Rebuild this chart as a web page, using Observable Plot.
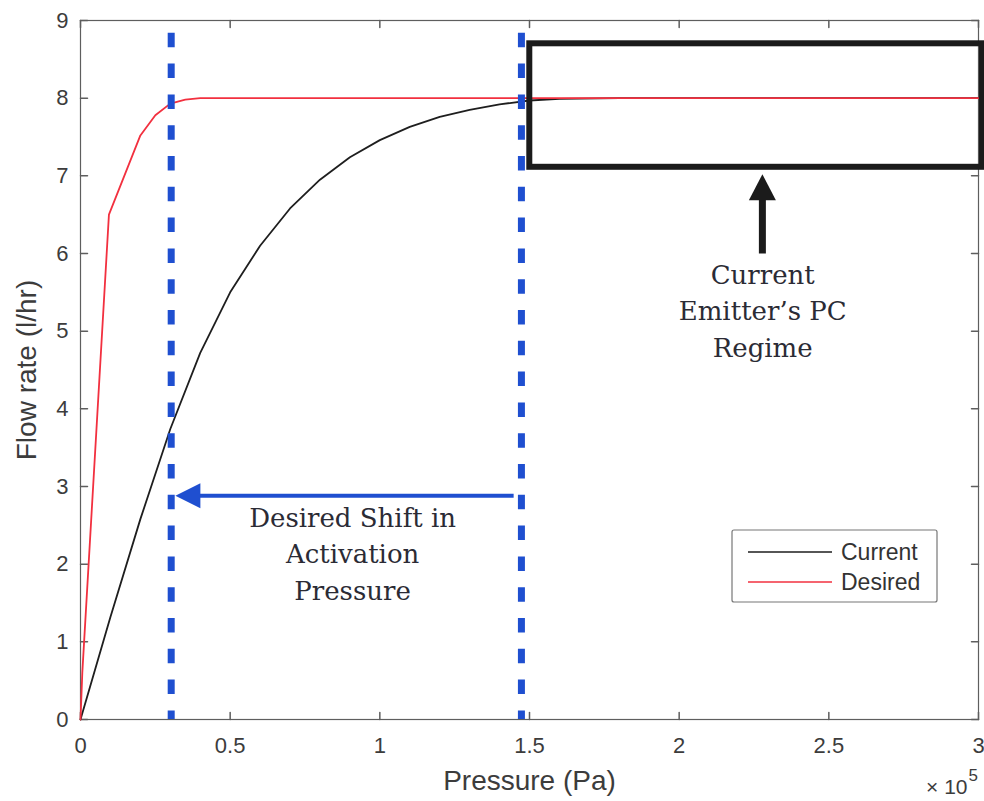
<!DOCTYPE html>
<html><head><meta charset="utf-8">
<script src="https://cdn.jsdelivr.net/npm/d3@7"></script>
<script src="https://cdn.jsdelivr.net/npm/@observablehq/plot@0.6"></script>
<style>
body{margin:0;background:#fff}
#chart{position:relative;width:984px;height:801px}
</style>
</head><body><div id="chart"></div>
<script>
// ---- data (pressure in Pa, flow rate in l/hr) ----
const seriesNames = ["Current", "Desired"];
const currentP = [0, 10000, 20000, 30000, 40000, 50000, 60000, 70000, 80000, 90000, 100000, 110000, 120000, 130000, 140000, 150000, 160000, 180000, 200000, 250000, 300000];
const currentQ = [0, 1.32, 2.58, 3.74, 4.72, 5.50, 6.10, 6.58, 6.95, 7.24, 7.46, 7.63, 7.76, 7.85, 7.92, 7.97, 7.99, 8.0, 8.0, 8.0, 8.0];
const desiredP = [0, 600, 9500, 20000, 25000, 30000, 35000, 40000, 100000, 200000, 300000];
const desiredQ = [0, 0.6, 6.5, 7.52, 7.78, 7.93, 7.98, 8.0, 8.0, 8.0, 8.0];
const xTicks = [0, 50000, 100000, 150000, 200000, 250000, 300000];
const xTickLabels = ["0", "0.5", "1", "1.5", "2", "2.5", "3"];
const yTicks = [0, 1, 2, 3, 4, 5, 6, 7, 8, 9];
const activationP = [30300, 147300];
const xLabel = "Pressure (Pa)";
const yLabel = "Flow rate (l/hr)";
const regimeBox = [{x1: 150100, x2: 301300, y1: 7.11, y2: 8.70}];
const regimeText = "Current\nEmitter\u2019s PC\nRegime";
const shiftText = "Desired Shift in\nActivation\nPressure";

const rows = [
  ...currentP.map((p, i) => ({series: seriesNames[0], p, q: currentQ[i]})),
  ...desiredP.map((p, i) => ({series: seriesNames[1], p, q: desiredQ[i]}))
];

const lineColors = ["#1e1e1e", "#f2303f"];
const blue = "#1f4fd0";
const tickShape = {draw(ctx, l) { ctx.moveTo(0, 0); ctx.lineTo(0, -l); }};
const headShape = {draw(ctx, l, r) { ctx.moveTo(0, -l); ctx.lineTo(-r, 0); ctx.lineTo(r, 0); ctx.closePath(); }};
const frameColor = "#5e5e5e";
const textColor = "#3c3c3c";

const svg = Plot.plot({
  width: 984, height: 801,
  marginLeft: 80, marginRight: 6, marginTop: 20, marginBottom: 82,
  style: {fontFamily: "'Liberation Sans', Arial, sans-serif", fontSize: "22px", color: textColor, background: "#fff", overflow: "visible"},
  x: {domain: [0, 300000], label: null},
  y: {domain: [0, 9], label: null},
  color: {domain: seriesNames, range: lineColors},
  marks: [
    Plot.frame({stroke: frameColor, strokeWidth: 1.2}),
    Plot.axisX(xTicks, {tickSize: 0, tickPadding: 18, tickFormat: d => xTickLabels[xTicks.indexOf(d)], fontSize: 22, fill: textColor}),
    Plot.axisY(yTicks, {tickSize: 0, tickPadding: 12, tickFormat: d => String(d), fontSize: 22, fill: textColor}),
    Plot.vector(xTicks, {x: d => d, frameAnchor: "bottom", length: 7, rotate: 0, anchor: "start", shape: tickShape, stroke: frameColor}),
    Plot.vector(xTicks, {x: d => d, frameAnchor: "top", length: 7, rotate: 180, anchor: "start", shape: tickShape, stroke: frameColor}),
    Plot.vector(yTicks, {y: d => d, frameAnchor: "left", length: 7, rotate: 90, anchor: "start", shape: tickShape, stroke: frameColor}),
    Plot.vector(yTicks, {y: d => d, frameAnchor: "right", length: 7, rotate: -90, anchor: "start", shape: tickShape, stroke: frameColor}),
    Plot.line(rows, {x: "p", y: "q", z: "series", stroke: "series", strokeWidth: 1.8}),
    Plot.ruleX(activationP, {stroke: blue, strokeWidth: 7, strokeDasharray: "14.5,16.3", strokeDashoffset: 18}),
    Plot.rect(regimeBox, {x1: "x1", x2: "x2", y1: "y1", y2: "y2", stroke: "#1b1b1b", strokeWidth: 6, fill: "none"}),
    // black arrow
    Plot.link([0], {x1: 227800, x2: 227800, y1: 6.0, y2: 6.75, stroke: "#1b1b1b", strokeWidth: 7}),
    Plot.vector([0], {x: 227800, y: 7.02, length: 26, r: 13.5, rotate: 0, anchor: "end", shape: headShape, fill: "#1b1b1b", stroke: "none"}),
    // blue arrow
    Plot.link([0], {x1: 144700, x2: 38000, y1: 2.88, y2: 2.88, stroke: blue, strokeWidth: 4}),
    Plot.vector([0], {x: 31700, y: 2.88, length: 25, r: 12.5, rotate: -90, anchor: "end", shape: headShape, fill: blue, stroke: "none"}),
    Plot.text([regimeText], {x: 227900, y: 5.29, text: d => d, fontFamily: "'DejaVu Serif', serif", fontSize: 26, lineHeight: 1.4, fill: "#2b2b35", textAnchor: "middle", lineAnchor: "middle"}),
    Plot.text([shiftText], {x: 90900, y: 2.16, text: d => d, fontFamily: "'DejaVu Serif', serif", fontSize: 26, lineHeight: 1.4, fill: "#2b2b35", textAnchor: "middle", lineAnchor: "middle"}),
    Plot.text([xLabel], {frameAnchor: "bottom", dy: 62, text: d => d, fontSize: 28, fill: textColor, textAnchor: "middle", lineAnchor: "middle"}),
    Plot.text([yLabel], {frameAnchor: "left", dx: -53, rotate: -90, text: d => d, fontSize: 28, fill: textColor, textAnchor: "middle", lineAnchor: "middle"}),
    Plot.text(["\u00d7 10"], {frameAnchor: "bottom-right", dx: -11, dy: 68, text: d => d, fontSize: 21, fill: textColor, textAnchor: "end", lineAnchor: "middle"}),
    Plot.text(["5"], {frameAnchor: "bottom-right", dx: -10, dy: 56, text: d => d, fontSize: 17, fill: textColor, textAnchor: "start", lineAnchor: "middle"})
  ]
});

// legend
const lg = d3.select(svg).append("g").attr("font-family", "'Liberation Sans', Arial, sans-serif").attr("font-size", 23).attr("text-anchor", "start");
lg.append("rect").attr("x", 732).attr("y", 530).attr("width", 205).attr("height", 72).attr("fill", "#fff").attr("stroke", "#777").attr("stroke-width", 1.2).attr("rx", 2);
seriesNames.forEach((name, i) => {
  const yy = 552 + i * 30;
  lg.append("line").attr("x1", 748).attr("x2", 832).attr("y1", yy).attr("y2", yy).attr("stroke", lineColors[i]).attr("stroke-width", 1.6);
  lg.append("text").attr("x", 841).attr("y", yy).attr("dy", "0.35em").attr("text-anchor", "start").attr("fill", "#333").text(name);
});

document.getElementById("chart").appendChild(svg);
</script>
</body></html>
